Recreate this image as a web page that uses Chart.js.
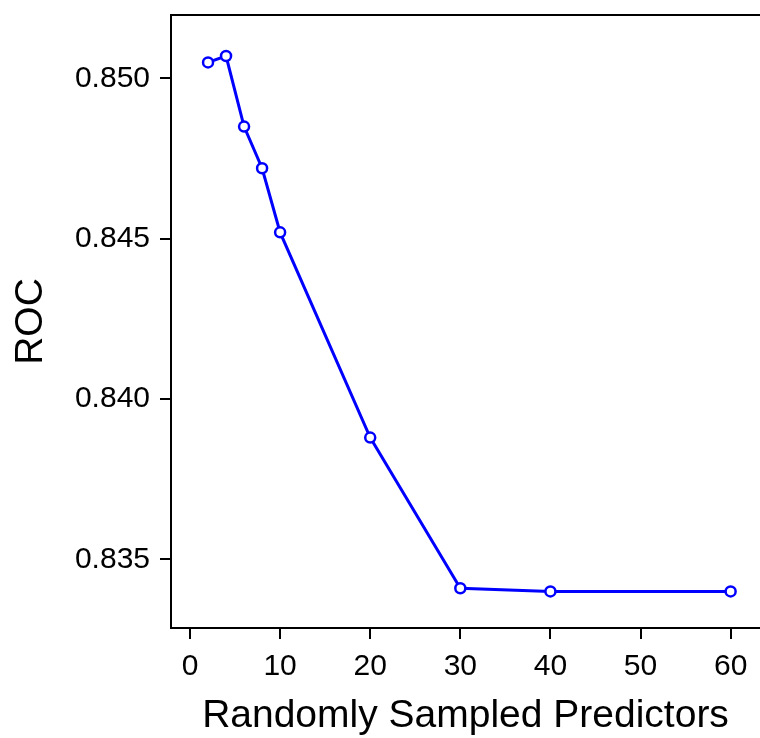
<!DOCTYPE html>
<html>
<head>
<meta charset="utf-8">
<script src="https://cdn.jsdelivr.net/npm/chart.js@4.4.0/dist/chart.umd.min.js"></script>
<style>
  html, body { margin: 0; padding: 0; background: #fff; }
  canvas { display: block; }
</style>
</head>
<body>
<canvas id="rocChart" width="760" height="738"></canvas>
<script>
// values
const predictors = [2, 4, 6, 8, 10, 20, 30, 40, 60];
const rocValues = [0.8505, 0.8507, 0.8485, 0.8472, 0.8452, 0.8388, 0.8341, 0.8340, 0.8340];
const xTicks = [0, 10, 20, 30, 40, 50, 60];
const yTicks = [0.835, 0.840, 0.845, 0.850];

const fontFamily = "'Liberation Sans', Arial, sans-serif";

// keep chart.js from reserving room for the end tick labels
function noEdgePadding(scale) {
    scale.paddingTop = 0;
    scale.paddingBottom = 0;
    scale.paddingLeft = 0;
    scale.paddingRight = 0;
}

new Chart(document.getElementById('rocChart'), {
    type: 'line',
    data: {
        datasets: [{
            label: 'ROC',
            data: predictors.map((x, i) => ({ x: x, y: rocValues[i] })),
            borderColor: '#0000ff',
            borderWidth: 3,
            pointRadius: 5,
            pointBorderWidth: 2.5,
            pointBorderColor: '#0000ff',
            pointBackgroundColor: '#ffffff',
            tension: 0
        }]
    },
    options: {
        responsive: false,
        animation: false,
        layout: { padding: 0, autoPadding: false },
        plugins: {
            legend: { display: false },
            tooltip: { enabled: false }
        },
        scales: {
            x: {
                type: 'linear',
                position: 'bottom',
                min: -2.11,
                max: 63.26,
                afterBuildTicks: scale => { scale.ticks = xTicks.map(v => ({ value: v })); },
                afterFit: scale => { scale.height = 110; noEdgePadding(scale); },
                grid: { display: true, drawOnChartArea: false, drawTicks: true, tickLength: 11, color: '#000', lineWidth: 2 },
                border: { display: true, color: '#000', width: 2 },
                ticks: {
                    color: '#000',
                    padding: 10,
                    maxRotation: 0,
                    font: { family: fontFamily, size: 30 },
                    callback: v => String(v)
                },
                title: {
                    display: true,
                    text: 'Randomly Sampled Predictors',
                    color: '#000',
                    font: { family: fontFamily, size: 39, lineHeight: 1 },
                    padding: { top: 0, bottom: 2 }
                }
            },
            xTop: {
                type: 'linear',
                position: 'top',
                min: -2.11,
                max: 63.26,
                afterFit: scale => { scale.height = 15; noEdgePadding(scale); },
                grid: { display: false },
                border: { display: true, color: '#000', width: 2 },
                ticks: { display: false }
            },
            y: {
                type: 'linear',
                position: 'left',
                min: 0.83286,
                max: 0.85198,
                afterBuildTicks: scale => { scale.ticks = yTicks.map(v => ({ value: v })); },
                afterFit: scale => { scale.width = 171; noEdgePadding(scale); },
                grid: { display: true, drawOnChartArea: false, drawTicks: true, tickLength: 11, color: '#000', lineWidth: 2 },
                border: { display: true, color: '#000', width: 2 },
                ticks: {
                    color: '#000',
                    padding: 10,
                    font: { family: fontFamily, size: 30 },
                    callback: v => v.toFixed(3)
                },
                title: {
                    display: true,
                    text: 'ROC',
                    color: '#000',
                    font: { family: fontFamily, size: 39, lineHeight: 1 },
                    padding: { top: 12, bottom: 0 }
                }
            }
        }
    }
});
</script>
</body>
</html>
